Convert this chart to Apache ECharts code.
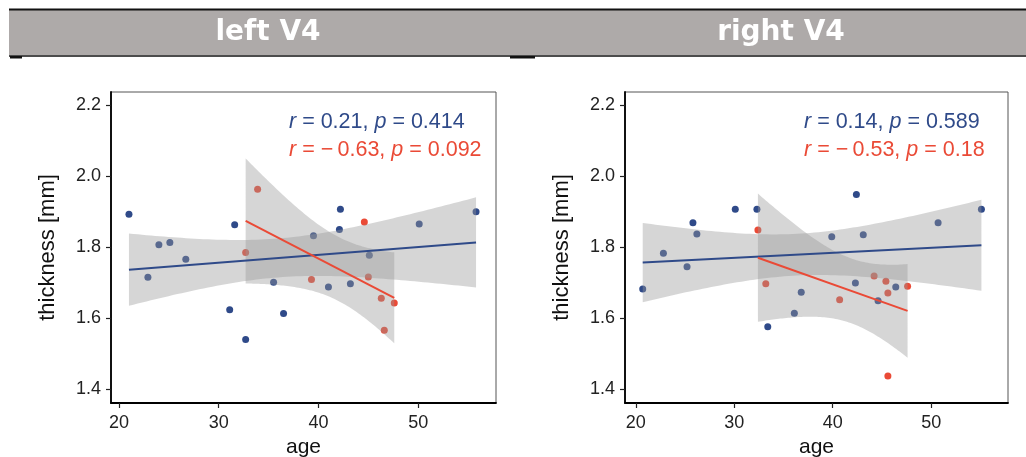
<!DOCTYPE html>
<html><head><meta charset="utf-8">
<script src="https://cdn.jsdelivr.net/npm/echarts@6/dist/echarts.min.js"></script>
<style>html,body{margin:0;padding:0;background:#fff}#c{width:1026px;height:457px}</style>
</head><body><div id="c"></div>
<script>
// ---------------- data ----------------
const panelTitles = ['left V4', 'right V4'];
const xTicks = [20, 30, 40, 50];
const yTicks = [1.4, 1.6, 1.8, 2.0, 2.2];
const xName = 'age';
const yName = 'thickness [mm]';

const leftBlueAge = [21.0, 22.9, 24.0, 25.1, 26.7, 31.6, 31.1, 32.7, 35.5, 36.5, 39.5, 41.0, 42.2, 42.1, 43.2, 45.1, 50.1, 55.8];
const leftBlueThk = [1.894, 1.716, 1.808, 1.814, 1.767, 1.864, 1.625, 1.541, 1.702, 1.614, 1.833, 1.689, 1.908, 1.851, 1.698, 1.778, 1.866, 1.901];
const leftRedAge = [33.9, 32.7, 39.3, 44.6, 45.0, 46.3, 47.6, 46.6];
const leftRedThk = [1.964, 1.786, 1.710, 1.872, 1.717, 1.657, 1.644, 1.567];

const rightBlueAge = [20.7, 22.8, 25.2, 25.8, 26.2, 30.1, 32.3, 33.4, 36.1, 36.8, 39.9, 42.4, 42.3, 43.1, 44.6, 46.4, 50.7, 55.1];
const rightBlueThk = [1.683, 1.784, 1.746, 1.870, 1.838, 1.908, 1.908, 1.577, 1.615, 1.674, 1.830, 1.949, 1.700, 1.836, 1.650, 1.689, 1.870, 1.908];
const rightRedAge = [32.4, 33.2, 40.7, 44.2, 45.4, 45.6, 47.6, 45.6];
const rightRedThk = [1.849, 1.698, 1.653, 1.720, 1.705, 1.672, 1.691, 1.438];

const leftStats = [['0.21', '0.414'], ['\u2212\u20090.63', '0.092']];
const rightStats = [['0.14', '0.589'], ['\u2212\u20090.53', '0.18']];

// ---------------- style ----------------
const BLUE = '#2F4A89';
const RED = '#EA4A36';
const FONT = '"Liberation Sans", Arial, sans-serif';

// ---------------- stats helpers ----------------
function lgamma(z) {
  const g = 7, c = [0.99999999999980993, 676.5203681218851, -1259.1392167224028, 771.32342877765313,
    -176.61502916214059, 12.507343278686905, -0.13857109526572012, 9.9843695780195716e-6, 1.5056327351493116e-7];
  z -= 1; let x = c[0];
  for (let i = 1; i < g + 2; i++) x += c[i] / (z + i);
  const t = z + g + 0.5;
  return 0.5 * Math.log(2 * Math.PI) + (z + 0.5) * Math.log(t) - t + Math.log(x);
}
function tQuantile(p, v) {
  const k = Math.exp(lgamma((v + 1) / 2) - lgamma(v / 2)) / Math.sqrt(v * Math.PI);
  const pdf = x => k * Math.pow(1 + x * x / v, -(v + 1) / 2);
  const cdf = x => { const n = 400, h = x / n; let s = pdf(0) + pdf(x);
    for (let i = 1; i < n; i++) s += (i % 2 ? 4 : 2) * pdf(i * h); return 0.5 + s * h / 3; };
  let lo = 0, hi = 30;
  for (let i = 0; i < 60; i++) { const m = (lo + hi) / 2; if (cdf(m) < p) lo = m; else hi = m; }
  return (lo + hi) / 2;
}
function fit(xs, ys) {
  const n = xs.length;
  const mx = xs.reduce((a, b) => a + b, 0) / n, my = ys.reduce((a, b) => a + b, 0) / n;
  let sxx = 0, sxy = 0;
  for (let i = 0; i < n; i++) { sxx += (xs[i] - mx) ** 2; sxy += (xs[i] - mx) * (ys[i] - my); }
  const b = sxy / sxx, a = my - b * mx;
  let sse = 0;
  for (let i = 0; i < n; i++) sse += (ys[i] - a - b * xs[i]) ** 2;
  const s = Math.sqrt(sse / (n - 2)), tq = tQuantile(0.975, n - 2);
  const x0 = Math.min(...xs), x1 = Math.max(...xs);
  const band = [];
  for (let i = 0; i < 80; i++) {
    const x = x0 + (x1 - x0) * i / 79, yh = a + b * x;
    const se = s * Math.sqrt(1 / n + (x - mx) ** 2 / sxx);
    band.push([x, yh - tq * se, yh + tq * se]);
  }
  return { line: [[x0, a + b * x0], [x1, a + b * x1]], band };
}

// ---------------- build ----------------
const panels = [
  { groups: [[leftBlueAge, leftBlueThk, BLUE], [leftRedAge, leftRedThk, RED]], xmin: 19.2, xmax: 57.8, left: 111, width: 385, stats: leftStats, statX: 289, titleX: 268 },
  { groups: [[rightBlueAge, rightBlueThk, BLUE], [rightRedAge, rightRedThk, RED]], xmin: 18.9, xmax: 57.8, left: 625, width: 383, stats: rightStats, statX: 804, titleX: 781 }
];
const YMIN = 1.362, YMAX = 2.238;

const grid = [], xAxis = [], yAxis = [], series = [], graphic = [];

// header
graphic.push({ type: 'rect', shape: { x: 9, y: 10, width: 1017, height: 45 }, style: { fill: '#AEAAA9' }, silent: true });
graphic.push({ type: 'line', shape: { x1: 9, y1: 9.5, x2: 1026, y2: 9.5 }, style: { stroke: '#111', lineWidth: 2 }, silent: true });
graphic.push({ type: 'line', shape: { x1: 9, y1: 56, x2: 1026, y2: 56 }, style: { stroke: '#111', lineWidth: 1.5 }, silent: true });
graphic.push({ type: 'rect', shape: { x: 10, y: 56, width: 12, height: 2.5 }, style: { fill: '#111' }, silent: true });
graphic.push({ type: 'rect', shape: { x: 510, y: 56, width: 25, height: 2.5 }, style: { fill: '#111' }, silent: true });

panels.forEach((P, gi) => {
  graphic.push({ type: 'text', silent: true, style: { x: P.titleX, y: 33, text: panelTitles[gi], fill: '#fff',
    font: 'bold 28px "DejaVu Sans", sans-serif', align: 'center', verticalAlign: 'middle' } });
  grid.push({ left: P.left, top: 92, width: P.width, height: 311, show: true, borderColor: '#555', borderWidth: 1, containLabel: false, outerBoundsMode: 'none' });
  xAxis.push({ gridIndex: gi, type: 'value', min: P.xmin, max: P.xmax, splitLine: { show: false },
    axisLine: { show: true, onZero: false, lineStyle: { color: '#000', width: 1.8 } },
    axisTick: { show: true, customValues: xTicks, length: 5, lineStyle: { color: '#222', width: 1.2 } },
    axisLabel: { customValues: xTicks, margin: 11, fontSize: 18, color: '#222', fontFamily: FONT },
    name: xName, nameLocation: 'middle', nameGap: 29, nameTextStyle: { fontSize: 21, color: '#111', fontFamily: FONT } });
  yAxis.push({ gridIndex: gi, type: 'value', min: YMIN, max: YMAX, splitLine: { show: false },
    axisLine: { show: true, onZero: false, lineStyle: { color: '#000', width: 1.8 } },
    axisTick: { show: true, customValues: yTicks, length: 5, lineStyle: { color: '#222', width: 1.2 } },
    axisLabel: { customValues: yTicks, margin: 10, fontSize: 18, color: '#222', fontFamily: FONT, formatter: v => v.toFixed(1) },
    name: yName, nameLocation: 'middle', nameGap: 52, nameTextStyle: { fontSize: 22, color: '#111', fontFamily: FONT } });

  const fits = P.groups.map(g => fit(g[0], g[1]));
  P.groups.forEach((g, k) => {
    series.push({ type: 'scatter', xAxisIndex: gi, yAxisIndex: gi, z: 2, symbolSize: 7,
      data: g[0].map((a, i) => [a, g[1][i]]), itemStyle: { color: g[2], opacity: 1 } });
  });
  P.groups.forEach((g, k) => {
    const band = fits[k].band;
    series.push({ type: 'custom', xAxisIndex: gi, yAxisIndex: gi, z: 3, silent: true,
      data: [[band[0][0], band[0][1]]],
      renderItem: (params, api) => {
        const up = band.map(p => api.coord([p[0], p[2]]));
        const dn = band.slice().reverse().map(p => api.coord([p[0], p[1]]));
        return { type: 'polygon', shape: { points: up.concat(dn) }, style: { fill: 'rgba(153,153,153,0.4)' } };
      } });
    series.push({ type: 'line', xAxisIndex: gi, yAxisIndex: gi, z: 4, symbol: 'none', silent: true,
      data: fits[k].line, lineStyle: { color: g[2], width: 2 } });
  });

  P.stats.forEach((st, k) => {
    const col = k === 0 ? BLUE : RED;
    graphic.push({ type: 'text', silent: true, z: 10, style: { x: P.statX, y: k === 0 ? 122 : 150,
      text: '{i|r} = ' + st[0] + ', {i|p} = ' + st[1], fill: col, fontSize: 21.5, fontFamily: FONT,
      align: 'left', verticalAlign: 'middle',
      rich: { i: { fontStyle: 'italic', fontSize: 21.5, fontFamily: FONT, fill: col } } } });
  });
});

const chart = echarts.init(document.getElementById('c'), null, { renderer: 'canvas' });
chart.setOption({ animation: false, backgroundColor: '#fff', grid, xAxis, yAxis, series, graphic });
</script></body></html>
